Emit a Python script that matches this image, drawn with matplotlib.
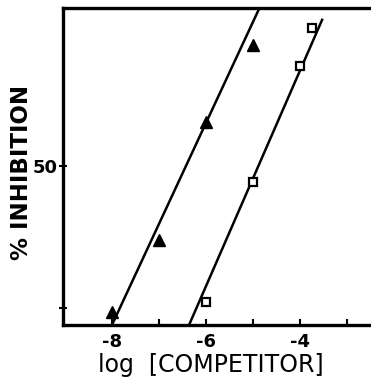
import matplotlib
matplotlib.use("Agg")
import matplotlib.pyplot as plt

# log concentration of competitor vs % inhibition
tri_x = [-8, -7, -6, -5]
tri_y = [-1.4, 23.9, 65.5, 92.6]
sq_x = [-6, -5, -4, -3.75]
sq_y = [2.1, 44.4, 85.2, 98.6]

# drawn regression lines (end points)
tri_line_x = [-8.0, -4.89]
tri_line_y = [-6.0, 104.6]
sq_line_x = [-6.36, -3.53]
sq_line_y = [-6.0, 101.4]

xticks = [-8, -7, -6, -5, -4, -3]
xticklabels = ["-8", "", "-6", "", "-4", ""]

fig = plt.figure(figsize=(3.71, 3.77), dpi=100)
ax = fig.add_axes([0.170, 0.138, 0.83, 0.841])

ax.plot(tri_line_x, tri_line_y, color="black", lw=1.8)
ax.plot(sq_line_x, sq_line_y, color="black", lw=1.8)
ax.plot(tri_x, tri_y, "^", color="black", ms=8, zorder=3)
ax.plot(sq_x, sq_y, "s", mfc="white", mec="black", mew=1.6, ms=6, zorder=3)

ax.set_xlim(-9.04, -2.49)
ax.set_ylim(-6.0, 105.6)

for side in ["left", "bottom", "top"]:
    ax.spines[side].set_linewidth(2.4)
ax.spines["right"].set_visible(False)

ax.set_xticks(xticks)
ax.set_xticklabels(xticklabels, fontsize=13, fontweight="bold")
ax.tick_params(axis="x", direction="in", length=4, width=1.5, pad=6)

ax.set_yticks([0, 50])
ax.set_yticklabels(["", "50"], fontsize=13, fontweight="bold")
ax.tick_params(axis="y", direction="inout", length=6, width=1.5, pad=1)

ax.set_xlabel("log  [COMPETITOR]", fontsize=17)
ax.xaxis.set_label_coords(0.48, -0.088)
ax.set_ylabel("% INHIBITION", fontsize=16.5, fontweight="bold")
ax.yaxis.set_label_coords(-0.097, 0.48)

fig.savefig("out.png", dpi=100)
